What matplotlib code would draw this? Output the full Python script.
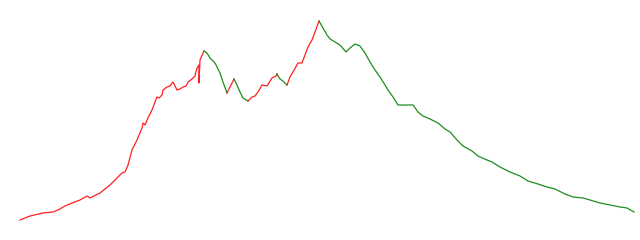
import numpy as np
import matplotlib
matplotlib.use("Agg")
import matplotlib.pyplot as plt

# positions along the horizontal axis and the series values
xs = [20, 30, 43, 53, 58, 65, 72, 80, 87, 90, 100, 110, 118, 122, 125, 128, 132,
      137, 142, 143, 145, 148, 152, 155, 157, 159, 162, 163, 167, 170, 173, 175, 177,
      180, 183, 186, 188, 192, 195, 197, 199, 199, 200, 204,
      207, 210, 213, 215, 217, 220, 223, 227,
      230, 234,
      237, 240, 243, 248,
      252, 255, 258, 262, 267, 272, 276, 277,
      280, 283, 287,
      290, 293, 298, 302, 305, 308, 312, 315, 319,
      323, 327, 330, 335, 340, 346, 350, 355, 360, 365, 370, 375, 380, 385, 388, 393,
      398, 413, 418, 423, 430, 438, 445, 450, 457, 463, 472, 478, 487, 492, 500, 510,
      520, 528, 538, 547, 555, 565, 573, 583, 590, 600, 610, 620, 627, 634]
vals = [20, 24, 27, 28, 30, 34, 37, 40, 44, 42, 47, 55, 63, 67, 68, 75, 90,
        100, 112, 117, 115, 122, 130, 138, 143, 142, 145, 150, 153, 154, 158, 154, 150,
        151, 153, 154, 158, 161, 164, 172, 175, 157, 180, 189,
        187, 182, 179, 177, 173, 167, 158, 147,
        153, 161,
        155, 148, 142, 139,
        143, 144, 148, 155, 154, 162, 164, 166,
        161, 159, 155,
        163, 168, 177, 177, 185, 193, 200, 208, 219,
        212, 205, 201, 198, 195, 188, 192, 196, 194, 187, 178, 170, 163, 155, 150, 143,
        135, 135, 128, 124, 121, 117, 111, 108, 100, 94, 89, 84, 80, 78, 73, 68,
        64, 59, 56, 53, 51, 46, 43, 42, 40, 37, 35, 33, 32, 28]

# turning points of the trend (peak / trough positions)
turns = [204, 227, 234, 248, 277, 287, 319]
trend_colors = ['#ff2020', '#1e8c1e']

fig = plt.figure(figsize=(6.4, 2.4), dpi=100)
ax = fig.add_axes([0, 0, 1, 1])

xs = np.array(xs)
vals = np.array(vals)
bounds = [xs[0]] + turns + [xs[-1]]
for k in range(len(bounds) - 1):
    start = np.where(xs == bounds[k])[0][0]
    stop = np.where(xs == bounds[k + 1])[0][-1]
    ax.plot(xs[start:stop + 1], vals[start:stop + 1], color=trend_colors[k % 2], lw=0.9)

ax.set_xlim(0, 640)
ax.set_ylim(0, 240)
ax.axis('off')
fig.savefig("out.png", dpi=100)
